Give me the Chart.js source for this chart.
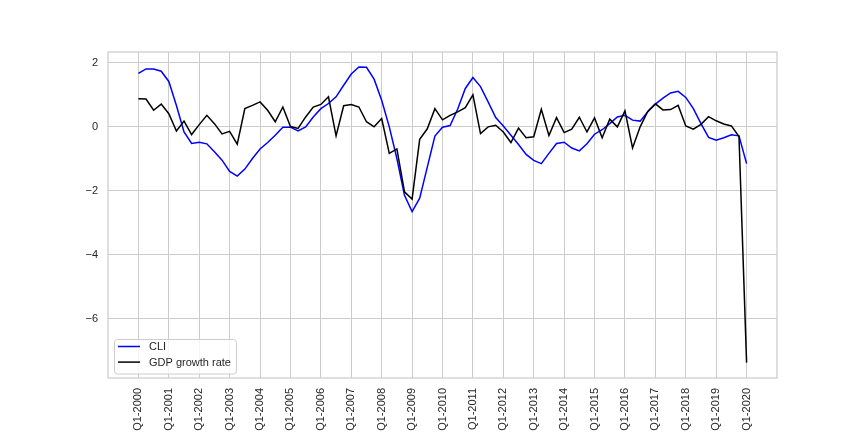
<!DOCTYPE html>
<html>
<head>
<meta charset="utf-8">
<title>CLI vs GDP growth rate</title>
<script src="https://cdn.jsdelivr.net/npm/chart.js@4/dist/chart.umd.min.js"></script>
<style>
  html, body { margin: 0; padding: 0; background: #ffffff; }
  #wrap { position: relative; width: 864px; height: 432px; }
</style>
</head>
<body>
<div id="wrap"><canvas id="cli-chart"></canvas></div>
<script>
// Quarterly series, Q1-2000 .. Q1-2020 (81 quarters)
const cliValues = [
  1.66, 1.80, 1.80, 1.73, 1.41, 0.66, -0.17, -0.53, -0.49, -0.54,
  -0.79, -1.05, -1.40, -1.55, -1.33, -1.00, -0.70, -0.50, -0.27, -0.02,
  -0.02, -0.14, -0.01, 0.30, 0.56, 0.72, 0.93, 1.29, 1.64, 1.86,
  1.85, 1.48, 0.82, -0.01, -1.00, -2.15, -2.66, -2.24, -1.27, -0.30,
  -0.02, 0.03, 0.55, 1.19, 1.53, 1.25, 0.77, 0.28, 0.02, -0.27,
  -0.56, -0.87, -1.06, -1.16, -0.84, -0.53, -0.49, -0.67, -0.76, -0.54,
  -0.24, -0.10, 0.09, 0.30, 0.35, 0.20, 0.17, 0.46, 0.70, 0.89,
  1.05, 1.10, 0.91, 0.56, 0.09, -0.34, -0.43, -0.35, -0.26, -0.29,
  -1.16
];

const gdpValues = [
  0.87, 0.86, 0.51, 0.70, 0.40, -0.14, 0.17, -0.25, 0.06, 0.35,
  0.09, -0.23, -0.15, -0.55, 0.56, 0.66, 0.77, 0.51, 0.15, 0.61,
  0.00, -0.06, 0.30, 0.61, 0.69, 0.93, -0.29, 0.65, 0.69, 0.61,
  0.15, -0.01, 0.25, -0.84, -0.70, -2.04, -2.27, -0.40, -0.07, 0.56,
  0.21, 0.35, 0.46, 0.59, 0.99, -0.22, -0.01, 0.04, -0.17, -0.50,
  -0.05, -0.35, -0.32, 0.54, -0.28, 0.28, -0.19, -0.08, 0.29, -0.17,
  0.27, -0.35, 0.23, -0.01, 0.49, -0.67, -0.01, 0.47, 0.71, 0.52,
  0.53, 0.66, 0.02, -0.08, 0.07, 0.31, 0.18, 0.08, 0.02, -0.31,
  -7.38
];

// one tick every 4 quarters
const xTickLabels = [
  'Q1-2000', 'Q1-2001', 'Q1-2002', 'Q1-2003', 'Q1-2004', 'Q1-2005', 'Q1-2006',
  'Q1-2007', 'Q1-2008', 'Q1-2009', 'Q1-2010', 'Q1-2011', 'Q1-2012', 'Q1-2013',
  'Q1-2014', 'Q1-2015', 'Q1-2016', 'Q1-2017', 'Q1-2018', 'Q1-2019', 'Q1-2020'
];
const yTickValues = [-6, -4, -2, 0, 2];

const FONT = '"Liberation Sans", Arial, sans-serif';
const TEXT = '#262626';
const GRID = '#cccccc';

const toPoints = arr => arr.map((v, i) => ({ x: i, y: v }));

// frame around the plot area (all four spines)
const frame = {
  id: 'frame',
  beforeDatasetsDraw(chart) {
    const { ctx, chartArea: a } = chart;
    ctx.save();
    ctx.strokeStyle = GRID;
    ctx.lineWidth = 1.25;
    ctx.strokeRect(a.left, a.top, a.right - a.left, a.bottom - a.top);
    ctx.restore();
  }
};

// legend in the lower left corner of the plot
const insideLegend = {
  id: 'insideLegend',
  afterDraw(chart) {
    const { ctx, chartArea: a } = chart;
    ctx.save();
    ctx.font = '11px ' + FONT;
    const sets = chart.data.datasets;
    const textW = Math.max(...sets.map(d => ctx.measureText(d.label).width));
    const x = a.left + 6, y = a.bottom - 39.5;
    const w = 35 + textW + 5, h = 34.5;

    ctx.beginPath();
    ctx.roundRect(Math.round(x) + 0.5, Math.round(y) + 0.5, w, h, 3);
    ctx.fillStyle = 'rgba(255,255,255,0.8)';
    ctx.fill();
    ctx.strokeStyle = GRID;
    ctx.lineWidth = 1;
    ctx.stroke();

    sets.forEach((d, i) => {
      const cy = y + 8 + i * 15.6;
      ctx.beginPath();
      ctx.moveTo(x + 4, cy);
      ctx.lineTo(x + 26, cy);
      ctx.strokeStyle = d.borderColor;
      ctx.lineWidth = 1.5;
      ctx.stroke();
      ctx.fillStyle = TEXT;
      ctx.textBaseline = 'middle';
      ctx.textAlign = 'left';
      ctx.fillText(d.label, x + 35, cy + 0.5);
    });
    ctx.restore();
  }
};

document.addEventListener('DOMContentLoaded', () => {
  const el = document.getElementById('cli-chart');

  new Chart(el, {
    type: 'line',
    data: {
      datasets: [{
        label: 'CLI',
        data: toPoints(cliValues),
        borderColor: '#0000ff',
        borderWidth: 1.5,
        pointRadius: 0,
        tension: 0,
        fill: false,
        order: 1
      }, {
        label: 'GDP growth rate',
        data: toPoints(gdpValues),
        borderColor: '#000000',
        borderWidth: 1.5,
        pointRadius: 0,
        tension: 0,
        fill: false,
        order: 0
      }]
    },
    options: {
      responsive: true,
      maintainAspectRatio: false,
      animation: false,
      layout: { padding: { top: 52, right: 87, left: 0, bottom: 0 } },
      plugins: {
        legend: { display: false },
        tooltip: { enabled: false }
      },
      scales: {
        x: {
          type: 'linear',
          min: -4,
          max: 84,
          afterBuildTicks: s => { s.ticks = xTickLabels.map((_, k) => ({ value: k * 4 })); },
          afterFit: s => { s.height = 54; },
          grid: { color: GRID, lineWidth: 1, drawTicks: false },
          border: { display: false },
          ticks: {
            autoSkip: false,
            minRotation: 90,
            maxRotation: 90,
            padding: 10,
            color: TEXT,
            font: { family: FONT, size: 11 },
            callback: (v, i) => xTickLabels[i]
          }
        },
        y: {
          min: -7.86,
          max: 2.33,
          afterBuildTicks: s => { s.ticks = yTickValues.map(v => ({ value: v })); },
          afterFit: s => { s.width = 108; },
          grid: { color: GRID, lineWidth: 1, drawTicks: false },
          border: { display: false },
          ticks: {
            padding: 10,
            color: TEXT,
            font: { family: FONT, size: 11 },
            callback: v => String(v).replace('-', '\u2212')
          }
        }
      }
    },
    plugins: [frame, insideLegend]
  });
});
</script>
</body>
</html>
